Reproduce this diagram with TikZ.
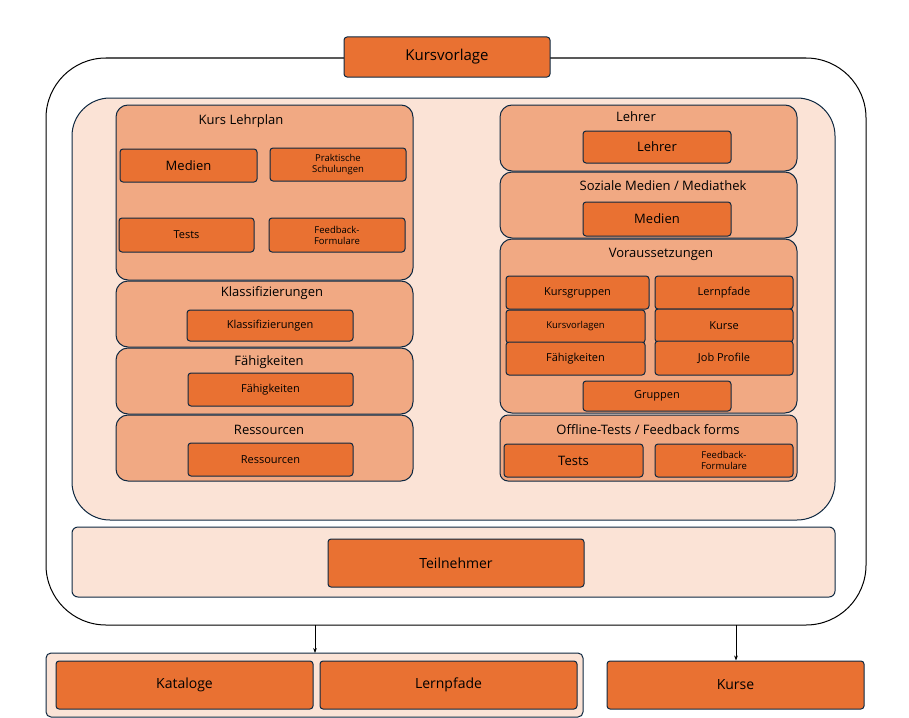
\documentclass[tikz,border=0pt]{standalone}
\usepackage{fontspec}
\setmainfont{Open Sans}
\usetikzlibrary{fit,arrows.meta}
\definecolor{or}{HTML}{E97132}
\definecolor{pe}{HTML}{FBE3D6}
\definecolor{mid}{HTML}{F1A983}
\definecolor{dk}{HTML}{0E2841}
\tikzset{
 ob/.style={draw=dk,fill=or,line width=1pt,rounded corners=3pt,inner sep=0pt,font=\fontsize{12}{14}\selectfont},
 sm/.style={font=\fontsize{9.5}{11}\selectfont,align=center},
 mb/.style={draw=dk,fill=mid,line width=1pt,rounded corners=12pt,inner sep=0pt},
 pb/.style={draw=dk,fill=pe,line width=1pt,inner sep=0pt},
 tt/.style={font=\fontsize{13}{15}\selectfont,inner sep=0pt}
}
\begin{document}
\begin{tikzpicture}[x=1pt,y=-1pt]
\path[use as bounding box] (0,0) rectangle (909,717);
\node[draw=black,line width=1pt,rounded corners=60pt,fit={(46,58)(866,625)},inner sep=0] (outer) {};
\node[ob,font=\fontsize{15}{17}\selectfont,fit={(344,37)(550,77)}] (kv) {};
\node at (kv) {\fontsize{15}{17}\selectfont Kursvorlage};
\node[pb,rounded corners=38pt,fit={(72,98)(835,520)}] (inner) {};
% left column
\node[mb,fit={(116,105)(413,280)}] (kl) {};
\node[tt] (klt) at (241,121) {Kurs Lehrplan};
\node[ob,fit={(120,149)(257,182)}] (m1) {}; \node at (m1) {\fontsize{13}{15}\selectfont Medien};
\node[ob,fit={(270,148)(406,181)}] (ps) {}; \node[sm] at (ps) {Praktische\\Schulungen};
\node[ob,fit={(119,218)(254,252)}] (t1) {}; \node at (t1) {\fontsize{11}{13}\selectfont Tests};
\node[ob,fit={(269,218)(405,252)}] (ff1) {}; \node[sm] at (ff1) {Feedback-\\Formulare};
\node[mb,fit={(116,281)(413,347)}] (kla) {};
\node[tt] at (272,293) {Klassifizierungen};
\node[ob,fit={(187,310)(353,341)}] (kla2) {}; \node at (kla2) {\fontsize{11}{13}\selectfont Klassifizierungen};
\node[mb,fit={(116,348)(413,414)}] (fa) {};
\node[tt] at (269,362) {Fähigkeiten};
\node[ob,fit={(188,373)(353,406)}] (fa2) {}; \node at (fa2) {\fontsize{11}{13}\selectfont Fähigkeiten};
\node[mb,fit={(116,415)(413,481)}] (re) {};
\node[tt] at (269,430) {Ressourcen};
\node[ob,fit={(188,443)(353,476)}] (re2) {}; \node at (re2) {\fontsize{11}{13}\selectfont Ressourcen};
% right column
\node[mb,fit={(500,105)(797,171)}] (le) {};
\node[tt] at (636,117) {Lehrer};
\node[ob,fit={(583,131)(731,163)}] (le2) {}; \node at (le2) {\fontsize{13}{15}\selectfont Lehrer};
\node[mb,fit={(500,172)(797,238)}] (so) {};
\node[tt] at (663,186) {Soziale Medien / Mediathek};
\node[ob,fit={(583,202)(731,236)}] (so2) {}; \node at (so2) {\fontsize{13}{15}\selectfont Medien};
\node[mb,fit={(500,239)(797,413)}] (vo) {};
\node[tt] at (661,254) {Voraussetzungen};
\node[ob,fit={(506,276)(649,309)}] (v1) {}; \node at (v1) {\fontsize{11}{13}\selectfont Kursgruppen};
\node[ob,fit={(655,276)(793,309)}] (v2) {}; \node at (v2) {\fontsize{11}{13}\selectfont Lernpfade};
\node[ob,fit={(506,310)(645,343)}] (v3) {}; \node at (v3) {\fontsize{9.5}{11}\selectfont Kursvorlagen};
\node[ob,fit={(655,309)(793,342)}] (v4) {}; \node at (v4) {\fontsize{11}{13}\selectfont Kurse};
\node[ob,fit={(506,342)(645,375)}] (v5) {}; \node at (v5) {\fontsize{11}{13}\selectfont Fähigkeiten};
\node[ob,fit={(655,341)(793,375)}] (v6) {}; \node at (v6) {\fontsize{11}{13}\selectfont Job Profile};
\node[ob,fit={(583,381)(731,411)}] (v7) {}; \node at (v7) {\fontsize{11}{13}\selectfont Gruppen};
\node[mb,rounded corners=8pt,fit={(500,415)(797,481)}] (of) {};
\node[tt] at (648,430) {Offline-Tests / Feedback forms};
\node[ob,fit={(504,444)(643,477)}] (t2) {}; \node at (t2) {\fontsize{13}{15}\selectfont Tests};
\node[ob,fit={(655,444)(793,477)}] (ff2) {}; \node[sm] at (ff2) {Feedback-\\Formulare};
% participants
\node[pb,rounded corners=6pt,fit={(72,527)(835,597)}] (tb) {};
\node[ob,fit={(328,539)(584,587)}] (tn) {}; \node at (tn) {\fontsize{14}{16}\selectfont Teilnehmer};
% bottom
\node[pb,rounded corners=5pt,fit={(46,653)(583,717)}] (bc) {};
\node[ob,fit={(56,661)(313,709)}] (ka) {}; \node at (ka) {\fontsize{14}{16}\selectfont Kataloge};
\node[ob,fit={(320,661)(577,709)}] (lp) {}; \node at (lp) {\fontsize{14}{16}\selectfont Lernpfade};
\node[ob,fit={(607,661)(864,709)}] (ku) {}; \node at (ku) {\fontsize{14}{16}\selectfont Kurse};
\coordinate (a1) at (315,625); \coordinate (b1) at (315,653);
\coordinate (a2) at (736,625);
\draw[-{Stealth[length=5pt]},thick] (a1) -- (b1);
\draw[-{Stealth[length=5pt]},thick] (a2) -- (ku.north -| a2);
\end{tikzpicture}
\end{document}
